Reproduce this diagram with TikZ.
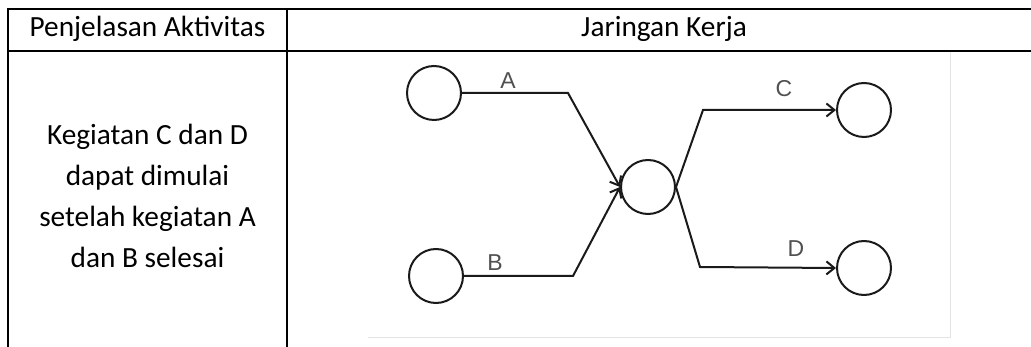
\documentclass[tikz,border=0pt]{standalone}
\usepackage{fontspec}
\setmainfont{Carlito}
\newfontfamily\labfont{Liberation Sans}
\usetikzlibrary{arrows.meta}
\definecolor{ink}{HTML}{1A1A1A}
\definecolor{labgray}{HTML}{505050}
\definecolor{imgedge}{HTML}{E4E4E4}
\begin{document}
\begin{tikzpicture}[x=1pt,y=-1pt,
  tbl/.style={line width=2.2pt,black},
  evt/.style={circle,draw=ink,line width=2pt,minimum size=54pt,inner sep=0pt},
  act/.style={draw=ink,line width=2pt,-{Straight Barb[length=8pt,width=13pt,line width=2pt]}},
  lab/.style={font=\labfont\fontsize{23}{25}\selectfont,text=labgray,inner sep=0pt,anchor=base},
  txt/.style={font=\fontsize{29.3}{35}\selectfont,inner sep=0pt,anchor=base},
  ]
\useasboundingbox (0,0) rectangle (1031,347);
% table
\draw[tbl] (8,9) -- (1031,9);
\draw[tbl] (8,51) -- (368,51);
\draw[black,line width=1.2pt] (368,51) -- (950,51);
\draw[tbl] (950,51) -- (1031,51);
\draw[tbl] (8,8) -- (8,347);
\draw[tbl] (287,8) -- (287,347);
\draw[imgedge,line width=1pt] (368,338) -- (950,338) -- (950,52);
% headers
\node[txt] (h1) at (147.5,37) {Penjelasan Aktivitas};
\node[txt] (h2) at (664,37) {Jaringan Kerja};
% description
\node[txt] (d1) at (147.5,145) {Kegiatan C dan D};
\node[txt] (d2) at (147.5,186) {dapat dimulai};
\node[txt] (d3) at (147.5,227) {setelah kegiatan A};
\node[txt] (d4) at (147.5,268) {dan B selesai};
% network
\node[evt] (na) at (434,93) {};
\node[evt] (nb) at (436,276) {};
\node[evt] (nm) at (648,187) {};
\node[evt] (nc) at (864,110) {};
\node[evt] (nd) at (864,268) {};
\coordinate (ka) at (568,93);
\coordinate (kb) at (573,276);
\coordinate (kc) at (703,110);
\coordinate (kd) at (700,267);
\draw[act] (na.east) -- (ka) -- (nm.west);
\draw[act] (nb.east) -- (kb) -- (nm.west);
\draw[act] (nm.east) -- (kc) -- (nc.west);
\draw[act] (nm.east) -- (kd) -- (nd.west);
\node[lab] (la) at (508,89) {A};
\node[lab] (lb) at (495,271) {B};
\node[lab] (lc) at (784,97) {C};
\node[lab] (ld) at (796,257) {D};
\end{tikzpicture}
\end{document}
